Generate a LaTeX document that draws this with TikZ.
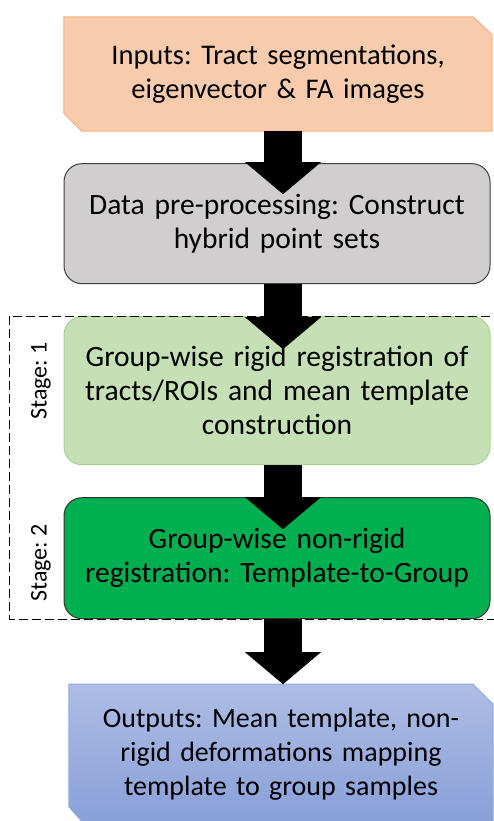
\documentclass[tikz,border=0pt]{standalone}
\usepackage{fontspec}
\setmainfont{Carlito}
\usepackage{xcolor}
\usetikzlibrary{arrows.meta,positioning,backgrounds}

\definecolor{inFill}{HTML}{F8CBAD}
\definecolor{inLine}{HTML}{F4B183}
\definecolor{preFill}{HTML}{D0CECE}
\definecolor{preLine}{HTML}{404040}
\definecolor{rigidFill}{HTML}{C5E0B4}
\definecolor{rigidLine}{HTML}{A9D18E}
\definecolor{nonrigidFill}{HTML}{00B050}
\definecolor{nonrigidLine}{HTML}{333333}
\definecolor{outTop}{HTML}{AEBDE5}
\definecolor{outBot}{HTML}{889FD8}
\definecolor{outLine}{HTML}{8FAADC}

\frenchspacing
\begin{document}
\begin{tikzpicture}[x=1pt, y=-1pt, node distance=32pt,
  every node/.style={align=center, text=black, font=\fontsize{28.5}{34}\selectfont},
  box/.style={minimum width=426pt, text width=420pt, inner sep=0pt},
  roundbox/.style={box, draw, line width=1pt, rounded corners=18pt, font=\fontsize{29.5}{34}\selectfont},
  snipline/.style={line width=1pt},
  stagelabel/.style={rotate=90, font=\fontsize{24}{28}\selectfont},
  bigarrow/.style={line width=38pt, -{Triangle[width=76pt, length=32pt, line width=0pt]}}]
\useasboundingbox (0,0) rectangle (493,821);

\node[box, minimum width=428pt, minimum height=114pt] (in) at (278,74)
  {Inputs: Tract segmentations,\\eigenvector \& FA images};
\node[roundbox, fill=preFill, draw=preLine, minimum height=120pt] (pre) [below=32pt of in, xshift=-1pt]
  {Data pre-processing: Construct\\hybrid point sets};
\node[roundbox, fill=rigidFill, draw=rigidLine, minimum height=148pt] (rigid) [below=32pt of pre]
  {Group-wise rigid registration of\\tracts/ROIs and mean template\\construction};
\node[roundbox, fill=nonrigidFill, draw=nonrigidLine, minimum height=121pt] (nonrigid) [below=32pt of rigid]
  {Group-wise non-rigid\\registration: Template-to-Group};
\node[box, minimum width=424pt, minimum height=140pt, font=\fontsize{28}{34}\selectfont] (out) [below=65pt of nonrigid, xshift=4pt]
  {Outputs: Mean template, non-\\rigid deformations mapping\\template to group samples};

% snipped corners of the input and output boxes
\begin{scope}[on background layer]
\draw[snipline, fill=inFill, draw=inLine] (in.north west) -- ([xshift=-19pt]in.north east) -- ([yshift=-18pt]in.north east)
  -- (in.south east) -- ([xshift=18pt]in.south west) -- ([yshift=18pt]in.south west) -- cycle;
\shade[snipline, top color=outTop, bottom color=outBot, draw=outLine] (out.north west) -- ([xshift=-20pt]out.north east)
  -- ([yshift=-20pt]out.north east) -- (out.south east) -- ([xshift=16pt]out.south west) -- ([yshift=18pt]out.south west) -- cycle;
\end{scope}

% stages
\draw[dashed, dash pattern=on 9pt off 4pt, line width=1pt] ([xshift=-54pt]rigid.north west) rectangle ([xshift=15pt]nonrigid.south east);
\node[stagelabel] (stage1) at (41,381) {Stage: 1};
\node[stagelabel] (stage2) at (41,563) {Stage: 2};

\draw[bigarrow] ([xshift=5pt]in.south) -- ([xshift=6pt, yshift=-31pt]pre.north);
\draw[bigarrow] ([xshift=6pt]pre.south) -- ([xshift=6pt, yshift=-33pt]rigid.north);
\draw[bigarrow] ([xshift=6pt]rigid.south) -- ([xshift=6pt, yshift=-32pt]nonrigid.north);
\draw[bigarrow] ([xshift=6pt]nonrigid.south) -- ([xshift=2pt]out.north);
\end{tikzpicture}
\end{document}
